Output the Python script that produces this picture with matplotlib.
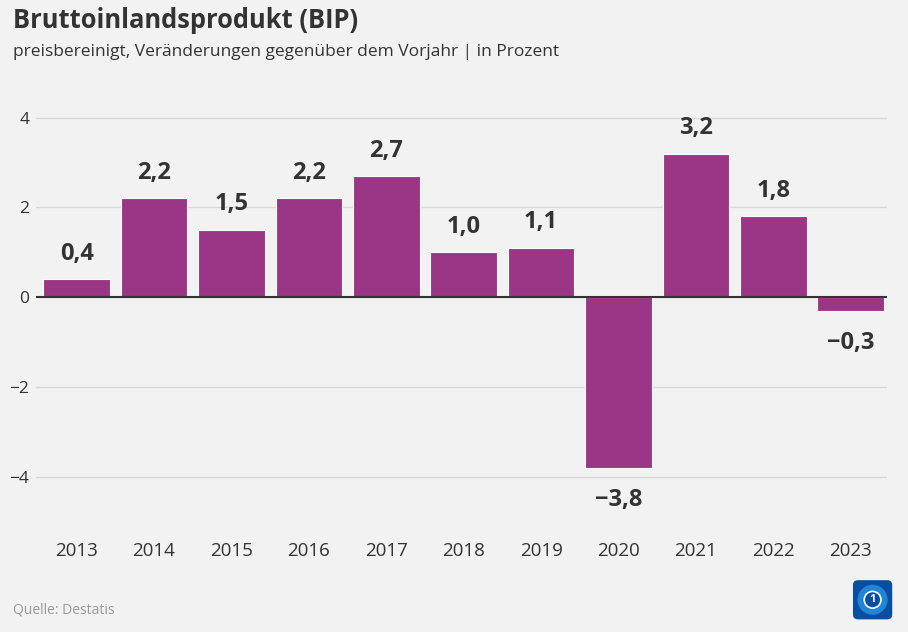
import matplotlib.pyplot as plt
from matplotlib.patches import FancyBboxPatch, Circle

plt.rcParams['font.family'] = ['Open Sans', 'DejaVu Sans']

# Data
years = ['2013', '2014', '2015', '2016', '2017', '2018', '2019', '2020', '2021', '2022', '2023']
growth = [0.4, 2.2, 1.5, 2.2, 2.7, 1.0, 1.1, -3.8, 3.2, 1.8, -0.3]
yticks = [-4, -2, 0, 2, 4]

bg = '#f2f2f2'
bar_color = '#9b3586'
text_color = '#333333'

fig = plt.figure(figsize=(9.08, 6.32), dpi=100, facecolor=bg)
ax = fig.add_axes([0.040, 0.175, 0.937, 0.66], facecolor=bg)

x = list(range(len(years)))
ax.bar(x, growth, width=0.86, color=bar_color, edgecolor='white', linewidth=0.8, zorder=3)

for xi, v in zip(x, growth):
    label = f'{v:.1f}'.replace('.', ',').replace('-', '\u2212')
    if v >= 0:
        ax.text(xi, v + 0.3, label, ha='center', va='bottom', fontsize=17,
                fontweight='bold', color=text_color)
    else:
        ax.text(xi, v - 0.45, label, ha='center', va='top', fontsize=17,
                fontweight='bold', color=text_color)

ax.set_xlim(-0.52, 10.47)
ax.set_ylim(-5.0, 4.3)
ax.set_yticks(yticks)
ax.set_yticklabels([str(t).replace('-', '\u2212') for t in yticks])
ax.set_xticks(x)
ax.set_xticklabels(years)
ax.tick_params(axis='both', length=0, colors=text_color)
ax.tick_params(axis='x', labelsize=13.5, pad=15)
ax.tick_params(axis='y', labelsize=12.5, pad=5)

ax.grid(axis='y', color='#d9d9d9', linewidth=1, zorder=0)
ax.axhline(0, color='#333333', linewidth=1.5, zorder=4)
for s in ax.spines.values():
    s.set_visible(False)

fig.text(0.014, 0.968, 'Bruttoinlandsprodukt (BIP)', fontsize=18.4, fontweight='bold',
         color=text_color, va='center')
fig.text(0.014, 0.918, 'preisbereinigt, Veränderungen gegenüber dem Vorjahr | in Prozent',
         fontsize=12.5, color=text_color, va='center')
fig.text(0.014, 0.035, 'Quelle: Destatis', fontsize=10, color='#999999', va='center')

# logo
lax = fig.add_axes([0.938, 0.018, 0.046, 0.066])
lax.set_axis_off()
lax.set_xlim(0, 1)
lax.set_ylim(0, 1)
lax.add_patch(FancyBboxPatch((0.03, 0.03), 0.94, 0.94, boxstyle='round,pad=0,rounding_size=0.12',
                             facecolor='#0a4ea3', edgecolor='none'))
lax.add_patch(Circle((0.5, 0.5), 0.36, facecolor='#1f86d6', edgecolor='none'))
lax.add_patch(Circle((0.5, 0.5), 0.2, facecolor='#0a4ea3', edgecolor='white', linewidth=1.2))
lax.text(0.5, 0.5, '1', ha='center', va='center', color='white', fontsize=8, fontweight='bold')

fig.savefig('out.png', dpi=100, facecolor=bg)
